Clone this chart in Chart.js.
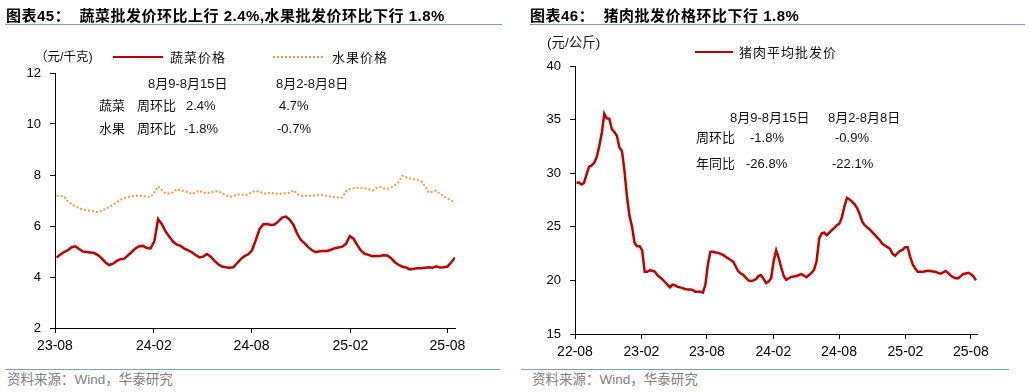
<!DOCTYPE html>
<html>
<head>
<meta charset="utf-8">
<script src="https://cdn.jsdelivr.net/npm/chart.js@4.4.1/dist/chart.umd.min.js"></script>
<style>
body{margin:0;background:#fff;width:1031px;height:392px;position:relative;overflow:hidden;font-family:"Liberation Sans","Noto Sans CJK SC",sans-serif;color:#111;}
canvas{position:absolute;top:0;}
.t{position:absolute;white-space:nowrap;line-height:1;transform:translateY(-50%);font-size:13px;z-index:2;}
.title{font-size:15px;font-weight:bold;color:#000;letter-spacing:0.5px;}
.src{font-size:13.5px;color:#808080;}
.rule{position:absolute;height:1px;background:#7f9cc4;}
.lg{position:absolute;height:0;z-index:2;}
.sp{letter-spacing:1px;}
</style>
</head>
<body>
<canvas id="vegChart" width="505" height="365" style="left:0"></canvas>
<canvas id="porkChart" width="505" height="365" style="left:520px"></canvas>

<div class="t title" style="left:6px;top:15px">图表45：&nbsp; 蔬菜批发价环比上行 2.4%,水果批发价环比下行 1.8%</div>
<div class="t title" style="left:530px;top:15px">图表46：&nbsp; 猪肉批发价格环比下行 1.8%</div>
<div class="rule" style="left:5px;top:24px;width:497px"></div>
<div class="rule" style="left:530px;top:24px;width:495px"></div>
<div class="rule" style="left:5px;top:369px;width:495px"></div>
<div class="rule" style="left:521px;top:369px;width:488px"></div>
<div class="t src" style="left:7px;top:380px">资料来源：Wind，华泰研究</div>
<div class="t src" style="left:532px;top:380px">资料来源：Wind，华泰研究</div>

<!-- left legend / notes -->
<div class="t" style="left:35px;top:57px;font-size:12.5px">（元/千克)</div>
<div class="lg" style="left:113px;top:56px;width:50px;border-top:2.5px solid #c00000"></div>
<div class="t sp" style="left:170px;top:57px">蔬菜价格</div>
<div class="lg" style="left:273px;top:56px;width:50px;border-top:2px dotted #f79646"></div>
<div class="t sp" style="left:332px;top:57px">水果价格</div>
<div class="t" style="left:148px;top:83px">8月9-8月15日</div>
<div class="t" style="left:276px;top:83px">8月2-8月8日</div>
<div class="t" style="left:99px;top:105px">蔬菜</div>
<div class="t" style="left:137px;top:105px">周环比</div>
<div class="t" style="left:186px;top:105px">2.4%</div>
<div class="t" style="left:279px;top:105px">4.7%</div>
<div class="t" style="left:99px;top:128px">水果</div>
<div class="t" style="left:137px;top:128px">周环比</div>
<div class="t" style="left:184px;top:128px">-1.8%</div>
<div class="t" style="left:277px;top:128px">-0.7%</div>

<!-- right legend / notes -->
<div class="t" style="left:547px;top:43px;font-size:13.5px">(元/公斤)</div>
<div class="lg" style="left:695px;top:51px;width:38px;border-top:2.5px solid #c00000"></div>
<div class="t sp" style="left:739px;top:52px">猪肉平均批发价</div>
<div class="t" style="left:730px;top:117px">8月9-8月15日</div>
<div class="t" style="left:828px;top:117px">8月2-8月8日</div>
<div class="t" style="left:696px;top:137px">周环比</div>
<div class="t" style="left:750px;top:137px">-1.8%</div>
<div class="t" style="left:835px;top:137px">-0.9%</div>
<div class="t" style="left:696px;top:163px">年同比</div>
<div class="t" style="left:746px;top:163px">-26.8%</div>
<div class="t" style="left:832px;top:163px">-22.1%</div>

<script>
// weekly wholesale prices (元/千克), first week ending 2023-08-04
const vegStart = "2023-08-04";
const vegPrice = [4.76,4.88,4.98,5.05,5.17,5.20,5.10,5.00,4.98,4.96,
  4.94,4.86,4.73,4.57,4.47,4.52,4.63,4.70,4.72,4.85,
  4.98,5.12,5.21,5.22,5.14,5.12,5.40,6.27,6.07,5.78,
  5.58,5.38,5.27,5.22,5.11,5.04,4.97,4.86,4.77,4.80,
  4.90,4.80,4.63,4.50,4.41,4.38,4.36,4.38,4.54,4.70,
  4.82,4.89,5.05,5.45,5.88,6.07,6.08,6.04,6.06,6.18,
  6.33,6.37,6.25,6.05,5.70,5.45,5.32,5.16,5.05,4.97,
  5.01,5.02,5.02,5.07,5.13,5.16,5.19,5.30,5.60,5.50,
  5.25,5.03,4.91,4.87,4.81,4.82,4.82,4.85,4.84,4.74,
  4.58,4.48,4.40,4.37,4.30,4.32,4.34,4.34,4.36,4.38,
  4.36,4.42,4.37,4.38,4.41,4.58,4.76];
const fruitPrice = [7.19,7.19,7.15,6.97,6.86,6.77,6.70,6.65,6.61,6.60,
  6.58,6.54,6.60,6.67,6.74,6.83,6.93,7.03,7.09,7.14,
  7.17,7.19,7.19,7.18,7.15,7.13,7.32,7.55,7.41,7.28,
  7.27,7.33,7.45,7.39,7.36,7.33,7.25,7.33,7.39,7.30,
  7.30,7.31,7.35,7.37,7.29,7.21,7.14,7.18,7.23,7.24,
  7.21,7.23,7.35,7.36,7.35,7.28,7.27,7.31,7.26,7.26,
  7.28,7.28,7.30,7.40,7.26,7.19,7.19,7.19,7.19,7.20,
  7.22,7.20,7.18,7.15,7.13,7.12,7.12,7.36,7.45,7.48,
  7.50,7.50,7.48,7.44,7.39,7.48,7.53,7.48,7.46,7.51,
  7.60,7.73,7.97,7.91,7.86,7.83,7.80,7.75,7.58,7.31,
  7.34,7.39,7.27,7.17,7.08,7.00,6.92];
const vegTickDates = ["2023-08-01","2024-02-01","2024-08-01","2025-02-01","2025-08-01"];
const vegTickLabels = ["23-08","24-02","24-08","25-02","25-08"];

// weekly pork price (元/公斤), first week ending 2022-08-05
const porkStart = "2022-08-05";
const porkPrice = [29.12,29.13,28.95,29.10,29.90,30.60,30.72,30.95,31.50,32.50,
  33.70,35.55,35.12,35.08,34.10,33.85,33.50,32.40,32.08,30.20,
  27.80,26.00,25.00,23.50,23.19,23.19,22.80,20.80,20.80,20.95,
  20.90,20.82,20.50,20.30,20.10,19.85,19.60,19.35,19.60,19.55,
  19.40,19.35,19.28,19.20,19.16,19.16,19.10,18.95,18.95,18.95,
  18.86,19.60,21.50,22.67,22.67,22.60,22.57,22.48,22.38,22.20,
  22.06,21.90,21.75,21.30,20.85,20.65,20.50,20.25,20.00,19.95,
  20.00,20.10,20.40,20.50,20.15,19.75,19.90,20.20,21.80,22.80,
  22.10,21.20,20.40,20.05,20.20,20.33,20.37,20.40,20.50,20.58,
  20.45,20.30,20.50,20.70,21.00,21.80,23.90,24.40,24.45,24.22,
  24.45,24.68,24.90,25.15,25.30,25.90,26.90,27.70,27.55,27.35,
  27.10,26.75,26.20,25.50,25.15,24.95,24.75,24.50,24.25,24.00,
  23.75,23.40,23.25,23.10,22.95,22.50,22.30,22.55,22.75,22.85,
  23.10,23.10,22.20,21.50,21.10,20.81,20.81,20.81,20.85,20.90,
  20.88,20.84,20.80,20.70,20.62,20.75,20.88,20.70,20.45,20.30,
  20.19,20.19,20.40,20.60,20.65,20.70,20.60,20.38,20.00];
const porkTickDates = ["2022-08-01","2023-02-01","2023-08-01","2024-02-01","2024-08-01","2025-02-01","2025-08-01"];
const porkTickLabels = ["22-08","23-02","23-08","24-02","24-08","25-02","25-08"];

const RED = "#c00000";
const ORANGE = "#f79646";

function dayOf(d, base) {
  return (Date.parse(d) - Date.parse(base)) / 86400000;
}
function weekly(start, base, vals) {
  const s = dayOf(start, base);
  return vals.map((v, i) => ({ x: s + 7 * i, y: v }));
}

function makeChart(el, datasets, o) {
  const ticks = o.tickDates.map(d => dayOf(d, o.base));
  return new Chart(el, {
    type: "line",
    data: { datasets },
    options: {
      responsive: false,
      animation: false,
      devicePixelRatio: 1,
      events: [],
      layout: { padding: { top: o.top, right: o.right, left: 0, bottom: 0 } },
      plugins: { legend: { display: false }, tooltip: { enabled: false } },
      elements: { point: { radius: 0 }, line: { tension: 0 } },
      scales: {
        x: {
          type: "linear",
          min: 0,
          max: dayOf(o.end, o.base),
          afterFit: s => { s.height = o.xh; },
          afterBuildTicks: s => { s.ticks = ticks.map(v => ({ value: v })); },
          border: { color: "#000", width: 1 },
          grid: { drawOnChartArea: false, tickLength: 5, color: "#000" },
          ticks: {
            autoSkip: false, maxRotation: 0, padding: 5, color: "#000",
            font: { family: "Liberation Sans", size: 14 },
            callback: (v, i) => o.tickLabels[i]
          }
        },
        y: {
          min: o.ymin, max: o.ymax,
          afterFit: s => { s.width = 55; },
          border: { color: "#000", width: 1 },
          grid: { drawOnChartArea: false, tickLength: 5, color: "#000" },
          ticks: {
            stepSize: o.step, padding: 9, color: "#000",
            font: { family: "Liberation Sans", size: 13 }
          }
        }
      }
    }
  });
}

makeChart(document.getElementById("vegChart"), [
  { label: "水果价格", data: weekly(vegStart, "2023-08-01", fruitPrice),
    borderColor: ORANGE, borderWidth: 2, borderDash: [2, 2], fill: false },
  { label: "蔬菜价格", data: weekly(vegStart, "2023-08-01", vegPrice),
    borderColor: RED, borderWidth: 2.5, fill: false }
], {
  base: "2023-08-01", end: "2025-08-15",
  tickDates: vegTickDates, tickLabels: vegTickLabels,
  ymin: 2, ymax: 12, step: 2, top: 73, right: 50, xh: 37
});

makeChart(document.getElementById("porkChart"), [
  { label: "猪肉平均批发价", data: weekly(porkStart, "2022-08-01", porkPrice),
    borderColor: RED, borderWidth: 2.5, fill: false }
], {
  base: "2022-08-01", end: "2025-08-18",
  tickDates: porkTickDates, tickLabels: porkTickLabels,
  ymin: 15, ymax: 40, step: 5, top: 66, right: 48, xh: 31
});
</script>
</body>
</html>
